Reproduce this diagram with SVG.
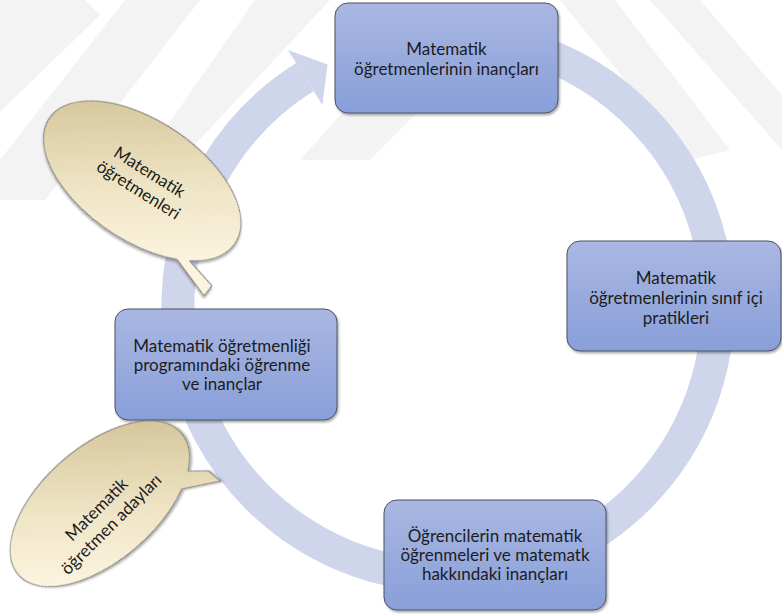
<svg xmlns="http://www.w3.org/2000/svg" width="782" height="614" viewBox="0 0 782 614">
  <defs>
    <linearGradient id="boxFill" x1="0" y1="0" x2="0" y2="1">
      <stop offset="0" stop-color="#aab7e2"/>
      <stop offset="1" stop-color="#889fd9"/>
    </linearGradient>
    <linearGradient id="bubbleFillA" gradientUnits="userSpaceOnUse" x1="-48" y1="-68" x2="48" y2="68">
      <stop offset="0" stop-color="#d6c79c"/>
      <stop offset="0.55" stop-color="#efe5c6"/>
      <stop offset="1" stop-color="#fcf4e0"/>
    </linearGradient>
    <linearGradient id="bubbleFillB" gradientUnits="userSpaceOnUse" x1="52" y1="-62" x2="-52" y2="62">
      <stop offset="0" stop-color="#d6c79c"/>
      <stop offset="0.55" stop-color="#efe5c6"/>
      <stop offset="1" stop-color="#fcf4e0"/>
    </linearGradient>
    <filter id="shadow" x="-10%" y="-10%" width="125%" height="130%">
      <feDropShadow dx="1.2" dy="1.8" stdDeviation="1.2" flood-color="#000" flood-opacity="0.35"/>
    </filter>
  </defs>
  <style>
    .box { fill: url(#boxFill); stroke: #4d5263; stroke-width: 1; filter: url(#shadow); }
    .lbl { font-family: Lato, "Liberation Sans", sans-serif; font-size: 17px; fill: #1c1c1c; text-anchor: middle; }
    .bubble { stroke: #767676; stroke-width: 1; filter: url(#shadow); }
    .ring { fill: none; stroke: #cfd6eb; stroke-width: 33; }
    .ringhead { fill: #cfd6eb; }
    .mark { fill: #f3f3f3; }
  </style>

  <rect width="782" height="614" fill="#ffffff"/>

  <!-- faint background emblem -->
  <g id="emblem">
    <polygon class="mark" points="0,0 85,0 100,15 0,112"/>
    <polygon class="mark" points="125,0 200,0 45,200 0,200 0,160"/>
    <polygon class="mark" points="255,0 330,0 190,150 150,150"/>
    <polygon class="mark" points="345,110 420,110 370,160 300,160"/>
    <polygon class="mark" points="560,0 615,0 730,150 690,160"/>
    <polygon class="mark" points="650,0 700,0 782,95 782,150"/>
  </g>

  <!-- cycle arrow -->
  <g id="connectors">
    <path class="ring" d="M 401.1,40.1 A 270 270 0 1 1 304.9,77.0"/>
    <polygon class="ringhead" points="288.0,49.9 327.5,64.4 322.4,105.0"/>
  </g>

  <g id="node-inanclar">
    <rect class="box" x="335" y="3" width="223" height="110" rx="13"/>
    <text class="lbl" x="446.5" y="55">Matematik</text>
    <text class="lbl" x="446.5" y="75">öğretmenlerinin inançları</text>
  </g>

  <g id="node-pratikler">
    <rect class="box" x="567" y="241" width="214" height="110" rx="13"/>
    <text class="lbl" x="676" y="284">Matematik</text>
    <text class="lbl" x="676" y="304">öğretmenlerinin sınıf içi</text>
    <text class="lbl" x="676" y="324">pratikleri</text>
  </g>

  <g id="node-ogrenciler">
    <rect class="box" x="384" y="500" width="222" height="110" rx="13"/>
    <text class="lbl" x="495" y="542">Öğrencilerin matematik</text>
    <text class="lbl" x="495" y="561">öğrenmeleri ve matematk</text>
    <text class="lbl" x="495" y="580">hakkındaki inançları</text>
  </g>

  <g id="node-program">
    <rect class="box" x="115" y="309" width="222" height="111" rx="13"/>
    <text class="lbl" x="222" y="352">Matematik öğretmenliği</text>
    <text class="lbl" x="222" y="371">programındaki öğrenme</text>
    <text class="lbl" x="222" y="390">ve inançlar</text>
  </g>

  <g id="callout-ogretmenler">
    <g transform="translate(143,181) rotate(34)">
      <path class="bubble" fill="url(#bubbleFillA)" d="M 83.2,40.1 A 112 60 0 1 0 72.0,46.0 L 114.9,61.1 L 115.7,48.3 Z"/>
    </g>
    <g transform="translate(141,186) rotate(32)">
      <text class="lbl" x="0" y="-10.5">Matematik</text>
      <text class="lbl" x="0" y="10.5">öğretmenleri</text>
    </g>
  </g>

  <g id="callout-adaylar">
    <g transform="translate(100,505) rotate(-41)">
      <path class="bubble" fill="url(#bubbleFillB)" d="M 88.5,32.1 A 108 57 0 1 0 72.3,41.6 L 106.6,61.0 L 104.3,45.5 Z"/>
    </g>
    <g transform="translate(108,521) rotate(-45)">
      <text class="lbl" x="0" y="-10.5">Matematik</text>
      <text class="lbl" x="0" y="10.5">öğretmen adayları</text>
    </g>
  </g>
</svg>
